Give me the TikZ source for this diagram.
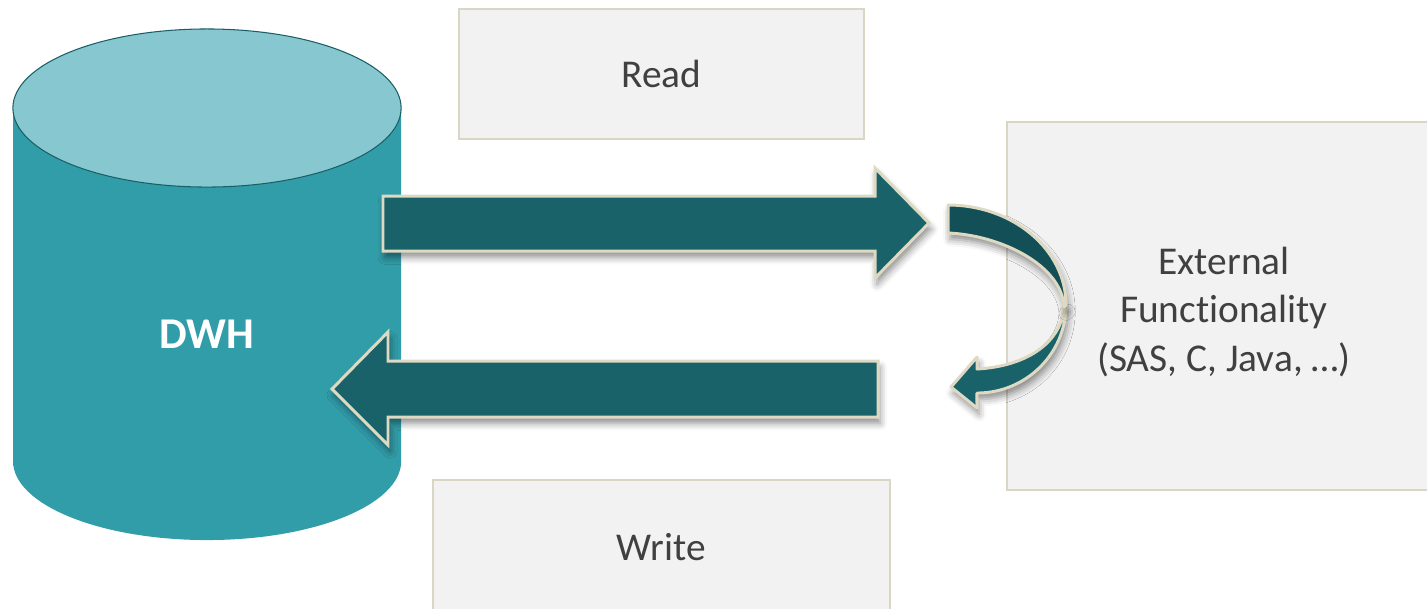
\documentclass[tikz,border=0pt]{standalone}
\usepackage{fontspec}
\setmainfont{Carlito}[Ligatures=NoCommon]
\usetikzlibrary{shadows.blur}
\definecolor{cylside}{HTML}{319DA8}
\definecolor{cyltop}{HTML}{87C8D0}
\definecolor{cylline}{HTML}{1B5F66}
\definecolor{arrowfill}{HTML}{1A626A}
\definecolor{arrowdark}{HTML}{134F56}
\definecolor{arrowedge}{HTML}{DDD9C3}
\definecolor{boxfill}{HTML}{F2F2F2}
\definecolor{boxedge}{HTML}{D9D6C6}
\definecolor{txt}{HTML}{404040}
\tikzset{
  labelbox/.style={draw=boxedge, line width=0.6pt, fill=boxfill, inner sep=0pt,
    text=txt, align=center, font=\fontsize{11.2}{13.7}\selectfont},
  bigarrow/.style={draw=arrowedge, line width=0.85pt, fill=arrowfill, line join=miter,
    blur shadow={shadow xshift=0.6pt, shadow yshift=-1.8pt, shadow blur radius=2pt, shadow opacity=45}},
}
\begin{document}
\begin{tikzpicture}[x=0.01cm, y=-0.01cm]
\useasboundingbox (0,0) rectangle (1427,608);
% cylinder
\fill[cylside] (13,108) -- (13,461) arc[start angle=180, end angle=360, x radius=1.94cm, y radius=0.79cm] -- (401,108) -- cycle;
\draw[cylline, line width=0.3pt, fill=cyltop] (207,108) ellipse[x radius=1.94cm, y radius=0.79cm];
\node[text=white, font=\fontsize{12.5}{15}\selectfont\bfseries] (dwh) at (207,334) {DWH};
% boxes
\node[labelbox, minimum width=4.05cm, minimum height=1.30cm] (read) at (661.5,74) {Read};
\node[labelbox, minimum width=4.57cm, minimum height=1.34cm] (write) at (661.5,547) {Write};
\node[labelbox, minimum width=4.34cm, minimum height=3.68cm] (ext) at (1224,306) {};
\node[text=txt, align=center, font=\fontsize{11.2}{13.7}\selectfont] (exttext) at (1224,312) {External\\Func\kern0pt t\kern0pt ionality\\(SAS, C, Java, …)};
% straight arrows
\draw[bigarrow] (383,196) -- (875,196) -- (875,168) -- (929,223) -- (875,278) -- (875,251) -- (383,251) -- cycle;
\draw[bigarrow] (878,361) -- (388,361) -- (388,332) -- (332,389) -- (388,445) -- (388,417) -- (878,417) -- cycle;
% curved arrow
\draw[bigarrow, line join=round] (1066,305) arc[start angle=0, end angle=-90, x radius=0.89cm, y radius=0.88cm]
  -- (977,408) -- (951,387) -- (977,357) -- (977,369)
  .. controls (1030,366) and (1062,340) .. (1064,307) -- cycle;
\draw[bigarrow, line join=round, fill=arrowdark] (948,205) arc[start angle=90, end angle=0, x radius=1.18cm, y radius=1.0cm]
  -- (1064,307) .. controls (1062,265) and (1000,235) .. (948,233) -- cycle;
\end{tikzpicture}
\end{document}
